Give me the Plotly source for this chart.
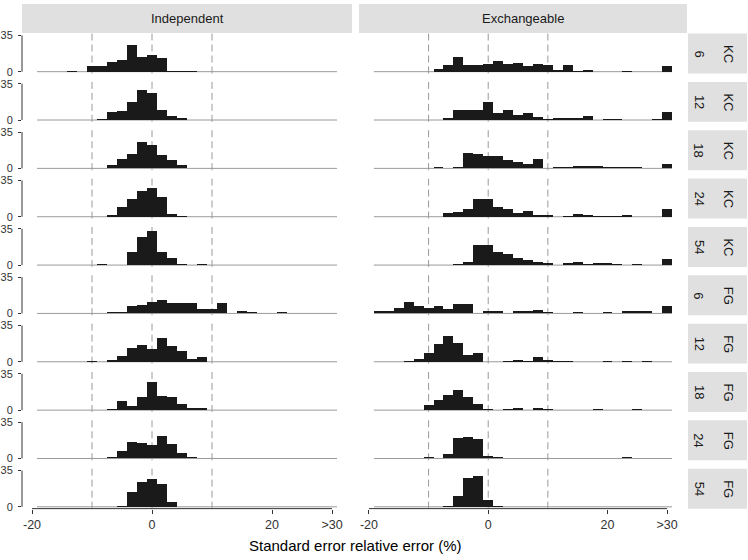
import plotly.graph_objects as go

W, H = 748, 560

# ---------------- data ----------------
BIN_WIDTH = 5 / 3
bin_index = list(range(-11, 19))            # 30 bins, centres at k*5/3
bin_centers = [k * BIN_WIDTH for k in bin_index]

col_labels = ["Independent", "Exchangeable"]
row_size = ["6", "12", "18", "24", "54", "6", "12", "18", "24", "54"]
row_type = ["KC", "KC", "KC", "KC", "KC", "FG", "FG", "FG", "FG", "FG"]
x_tick_vals = [-20, 0, 20, 30]
x_tick_text = ["-20", "0", "20", ">30"]
y_tick_vals = [0, 35]
ref_lines = [-10, 0, 10]
x_title = "Standard error relative error (%)"

# counts per bin (bins k = -11 ... 18)
ind_kc6  = [0,0,0,1,0,5,5,9,11,26,14,16,13,1,1,1,0,0,0,0,0,0,0,0,0,0,0,0,0,0]
ind_kc12 = [0,0,0,0,0,0,1,8,9,17,29,26,10,4,2,0,0,0,0,0,0,0,0,0,0,0,0,0,0,0]
ind_kc18 = [0,0,0,0,0,0,0,3,9,14,25,23,13,8,3,0,0,0,0,0,0,0,0,0,0,0,0,0,0,0]
ind_kc24 = [0,0,0,0,0,0,0,2,9,17,25,28,19,3,1,0,0,0,0,0,0,0,0,0,0,0,0,0,0,0]
ind_kc54 = [0,0,0,0,0,0,1,0,0,13,27,33,13,7,1,0,1,0,0,0,0,0,0,0,0,0,0,0,0,0]
ind_fg6  = [0,0,0,0,0,0,0,1,1,7,8,11,13,10,10,10,4,4,10,0,2,1,0,0,1,0,0,0,0,0]
ind_fg12 = [0,0,0,0,0,1,0,2,6,13,16,12,23,15,10,3,5,0,0,0,0,0,0,0,0,0,0,0,0,0]
ind_fg18 = [0,0,0,0,0,0,0,1,9,4,13,27,14,13,6,2,2,0,0,0,0,0,0,0,0,0,0,0,0,0]
ind_fg24 = [0,0,0,0,0,0,0,1,7,16,15,13,22,14,5,1,0,0,0,0,0,0,0,0,0,0,0,0,0,0]
ind_fg54 = [0,0,0,0,0,0,0,0,1,14,24,27,22,5,0,0,0,0,0,0,0,0,0,0,0,0,0,0,0,0]

exc_kc6  = [0,0,0,0,0,0,3,6,14,6,6,7,10,7,8,5,7,6,2,6,1,2,0,0,0,1,0,0,0,5]
exc_kc12 = [0,0,0,0,0,0,0,2,10,10,10,17,7,10,5,7,3,1,2,2,2,4,0,1,1,0,0,0,1,8]
exc_kc18 = [0,0,0,0,0,0,1,0,1,15,14,12,12,8,6,4,9,0,1,1,2,2,2,1,1,1,1,0,0,4]
exc_kc24 = [0,0,0,0,0,0,0,4,5,7,17,17,9,7,4,6,2,2,0,1,3,2,1,1,1,2,0,0,0,7]
exc_kc54 = [0,0,0,0,0,0,0,0,1,3,19,19,13,11,7,5,3,2,0,2,3,1,2,2,1,0,1,0,0,6]
exc_fg6  = [2,2,5,11,7,5,7,4,9,9,0,2,2,0,2,2,3,1,0,0,1,0,0,1,0,2,2,2,0,7]
exc_fg12 = [0,0,0,1,3,8,17,25,18,7,8,0,0,1,2,1,5,2,1,1,0,0,0,1,0,1,0,1,0,0]
exc_fg18 = [0,0,0,0,0,5,10,15,19,13,6,1,0,1,2,0,2,1,0,0,0,0,1,0,0,0,1,0,0,0]
exc_fg24 = [0,0,0,0,0,1,0,4,20,21,19,2,1,0,0,0,0,0,0,0,0,0,0,0,0,1,0,0,0,0]
exc_fg54 = [0,0,0,0,0,0,0,1,10,28,30,7,1,0,0,0,0,0,0,0,0,0,0,0,0,0,0,0,0,0]

panels = [
    [ind_kc6, exc_kc6], [ind_kc12, exc_kc12], [ind_kc18, exc_kc18],
    [ind_kc24, exc_kc24], [ind_kc54, exc_kc54], [ind_fg6, exc_fg6],
    [ind_fg12, exc_fg12], [ind_fg18, exc_fg18], [ind_fg24, exc_fg24],
    [ind_fg54, exc_fg54],
]

# ---------------- layout geometry (pixels) ----------------
X_RANGE = [-21.667, 33.333]
Y_RANGE = [-1.75, 36.75]
col_px = [(22, 352), (359, 687)]
ROW_TOP0, ROW_PITCH, ROW_H = 30, 49.05, 40.5
HEADER_TOP, HEADER_BOT = 0, 29.3
STRIP_X0, STRIP_X1 = 688, 747
BASE_LO, BASE_HI = -19.1667, 30.8333

FONT = "Liberation Sans, Arial, Helvetica, sans-serif"
BAR_COLOR = "#1a1a1a"
STRIP_COLOR = "#e0e0e0"
TEXT_COLOR = "#1a1a1a"
AXIS_COLOR = "#333333"
REF_COLOR = "#9a9a9a"


def px(x):
    return x / W


def py(y):
    return 1 - y / H


fig = go.Figure()
layout = dict(
    width=W, height=H,
    margin=dict(l=0, r=0, t=0, b=0),
    paper_bgcolor="white", plot_bgcolor="white",
    showlegend=False, bargap=0,
    font=dict(family=FONT, size=12, color=TEXT_COLOR),
)
shapes = []
annotations = []

nrows = len(panels)
for r in range(nrows):
    top = ROW_TOP0 + r * ROW_PITCH
    bot = top + ROW_H
    for c in range(2):
        n = r * 2 + c + 1
        xa = "x" if n == 1 else f"x{n}"
        ya = "y" if n == 1 else f"y{n}"
        fig.add_trace(go.Bar(
            x=bin_centers, y=panels[r][c], width=BIN_WIDTH,
            marker=dict(color=BAR_COLOR, line=dict(width=0)),
            xaxis=xa, yaxis=ya, hoverinfo="skip",
        ))
        bottom_row = (r == nrows - 1)
        layout[f"xaxis{n}"] = dict(
            domain=[px(col_px[c][0]), px(col_px[c][1])], anchor=ya,
            range=X_RANGE, showgrid=False, zeroline=False, showline=False,
            tickvals=x_tick_vals, ticktext=x_tick_text,
            ticks="outside" if bottom_row else "", ticklen=4, tickwidth=1,
            tickcolor=AXIS_COLOR, showticklabels=bottom_row,
            tickfont=dict(size=12.5, color=AXIS_COLOR, family=FONT),
            fixedrange=True,
        )
        layout[f"yaxis{n}"] = dict(
            domain=[py(bot), py(top)], anchor=xa,
            range=Y_RANGE, showgrid=False, zeroline=False, showline=False,
            tickvals=y_tick_vals,
            ticks="outside" if c == 0 else "", ticklen=3, tickwidth=1,
            tickcolor=AXIS_COLOR, showticklabels=(c == 0),
            ticklabelstandoff=3,
            tickfont=dict(size=11, color=AXIS_COLOR, family=FONT),
            fixedrange=True,
        )
        # zero baseline
        shapes.append(dict(type="line", xref=xa, yref=ya,
                           x0=BASE_LO, x1=BASE_HI, y0=0, y1=0,
                           line=dict(color="#9a9a9a", width=1), layer="below"))
        # dashed reference lines
        for v in ref_lines:
            shapes.append(dict(type="line", xref=xa, yref=f"{ya} domain",
                               x0=v, x1=v, y0=0, y1=1,
                               line=dict(color=REF_COLOR, width=1, dash="7px,4px"),
                               layer="below"))
        # capped y axis line
        if c == 0:
            shapes.append(dict(type="line", xref=f"{xa} domain", yref=ya,
                               x0=0, x1=0, y0=y_tick_vals[0], y1=y_tick_vals[-1],
                               line=dict(color=AXIS_COLOR, width=1)))
        # capped x axis line
        if bottom_row:
            shapes.append(dict(type="line", xref=xa, yref=f"{ya} domain",
                               x0=x_tick_vals[0], x1=x_tick_vals[-1], y0=0, y1=0,
                               line=dict(color=AXIS_COLOR, width=1)))

    # row strip
    shapes.append(dict(type="rect", xref="paper", yref="paper",
                       x0=px(STRIP_X0), x1=px(STRIP_X1), y0=py(bot), y1=py(top),
                       fillcolor=STRIP_COLOR, line=dict(width=0), layer="below"))
    ymid = py((top + bot) / 2)
    annotations.append(dict(text=row_size[r], xref="paper", yref="paper",
                            x=px(699), y=ymid, showarrow=False, textangle=90,
                            xanchor="center", yanchor="middle",
                            font=dict(size=13, color=TEXT_COLOR, family=FONT)))
    annotations.append(dict(text=row_type[r], xref="paper", yref="paper",
                            x=px(728.5), y=ymid, showarrow=False, textangle=90,
                            xanchor="center", yanchor="middle",
                            font=dict(size=13, color=TEXT_COLOR, family=FONT)))

# column headers
for c in range(2):
    shapes.append(dict(type="rect", xref="paper", yref="paper",
                       x0=px(col_px[c][0]), x1=px(col_px[c][1]),
                       y0=py(HEADER_BOT), y1=py(HEADER_TOP),
                       fillcolor=STRIP_COLOR, line=dict(width=0), layer="below"))
    annotations.append(dict(text=col_labels[c], xref="paper", yref="paper",
                            x=px((col_px[c][0] + col_px[c][1]) / 2),
                            y=py((HEADER_TOP + HEADER_BOT) / 2),
                            showarrow=False, xanchor="center", yanchor="middle",
                            font=dict(size=13, color=TEXT_COLOR, family=FONT)))

# x axis title
annotations.append(dict(text=x_title, xref="paper", yref="paper",
                        x=px(355), y=py(549), showarrow=False,
                        xanchor="center", yanchor="middle",
                        font=dict(size=15, color="black", family=FONT)))

layout["shapes"] = shapes
layout["annotations"] = annotations
fig.update_layout(**layout)

pin_script = (
    "document.body.style.margin='0';"
    "var gd=document.getElementById('{plot_id}');"
    "gd.style.position='fixed';gd.style.left='0px';gd.style.top='0px';"
)
fig.write_html("out.html", post_script=pin_script,
               config={"displayModeBar": False, "staticPlot": True})
